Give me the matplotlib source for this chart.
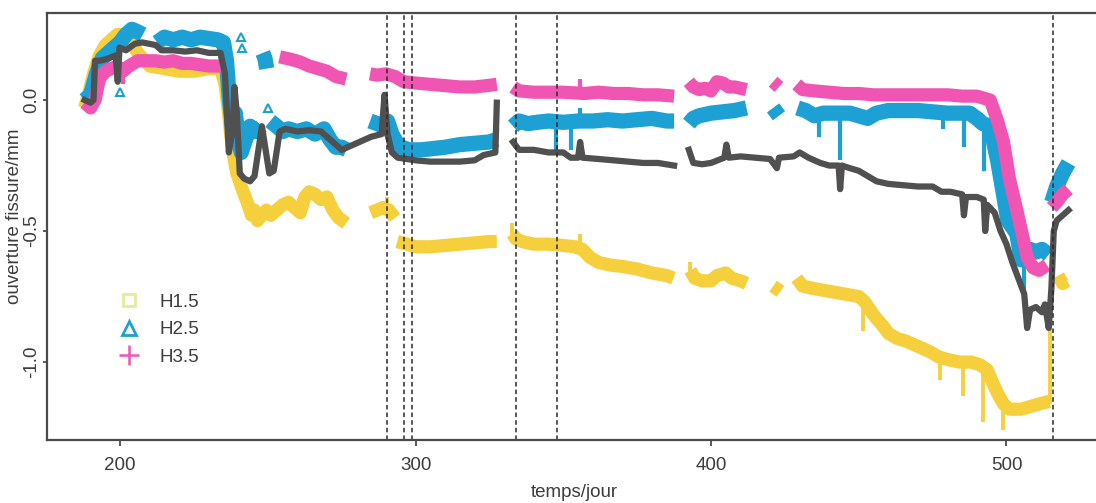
import numpy as np
import matplotlib.pyplot as plt
from matplotlib.lines import Line2D

nan = np.nan

# ---- H1.5 (yellow) ----
h15_day = [188, 189.5, 191, 193, 195, 197, 199, 201, 203, 206, 210, 215, 220, 225, 230, 234,
           235.5, 236.5, 237.5, 238.5, 239.5, 241, 243, 244.5, 245.5, 246.5, 248, 249.5, 251,
           253, 255, 257, 259, 261, 262.5, 264, 266, 268, 270, 272, 274, 276.5, nan,
           284.8, 287, 289, 291, 293, nan,
           293.8, 297, 300, 305, 310, 315, 320, 325, 327.5, nan,
           332.8, 334, 336, 340, 345, 350, 354, 356.5, 359, 362, 366, 370, 375, 380, 385, 387.3, nan,
           393, 394.5, 397, 400, 402, 405, 407, 410, 412, nan,
           421, 423.5, nan,
           429, 431, 435, 440, 445, 450, 452, 455, 458, 460, 463, 466, 470, 474, 477, 480, 484,
           488, 491, 493.5, 495, 497, 499, 501, 505, 508, 511, 514.5, nan,
           517.5, 519, 520.5]
h15_val = [-0.03, 0.03, 0.1, 0.17, 0.21, 0.23, 0.25, 0.25, 0.23, 0.18, 0.13, 0.12, 0.11, 0.11, 0.12, 0.12,
           0.06, -0.03, -0.14, -0.22, -0.28, -0.33, -0.39, -0.44, -0.42, -0.46, -0.44, -0.42, -0.44,
           -0.42, -0.40, -0.39, -0.41, -0.43, -0.37, -0.35, -0.36, -0.38, -0.37, -0.42, -0.45, -0.47, nan,
           -0.43, -0.42, -0.41, -0.42, -0.45, nan,
           -0.54, -0.55, -0.56, -0.56, -0.555, -0.55, -0.545, -0.54, -0.54, nan,
           -0.51, -0.53, -0.54, -0.55, -0.55, -0.555, -0.56, -0.57, -0.6, -0.62, -0.63, -0.635, -0.645,
           -0.66, -0.67, -0.68, nan,
           -0.65, -0.68, -0.69, -0.69, -0.67, -0.66, -0.68, -0.69, -0.70, nan,
           -0.71, -0.73, nan,
           -0.68, -0.71, -0.72, -0.73, -0.74, -0.75, -0.77, -0.82, -0.86, -0.89, -0.91, -0.92, -0.94,
           -0.96, -0.98, -0.99, -1.0, -1.0, -1.01, -1.03, -1.07, -1.12, -1.16, -1.18, -1.18, -1.17,
           -1.16, -1.15, nan,
           -0.67, -0.70, -0.69]
h15_spk_day = [290.4, 332.5, 355.5, 393, 451.5, 477.6, 485.2, 492.2, 498.8, 514.8]
h15_spk_from = [-0.42, -0.53, -0.56, -0.67, -0.76, -0.98, -1.0, -1.02, -1.15, -1.16]
h15_spk_to = [-0.37, -0.47, -0.51, -0.62, -0.88, -1.07, -1.13, -1.23, -1.26, -0.87]

# ---- H2.5 (blue) ----
h25_day = [188, 190, 192, 194, 196, 198, 200, 202, 204, 206, 207.7, nan,
           212.5, 215, 218, 221, 224, 227, 230, 233, 235, 236, 237, 238, 239, 240, 241, 242.5,
           244, 246, 247.8, nan,
           248.3, 249, 249.6, nan,
           250.8, 253, 255, 257, 260, 263, 266, 269, 271, 273, 275, 276.7, nan,
           284.6, 287, 289, 290.5, 292, 293.5, 295, 298, 302, 306, 310, 315, 320, 325, 327.5, nan,
           333, 335, 338, 341, 345, 350, 355, 360, 365, 370, 375, 380, 385, 387.5, nan,
           392.5, 394, 396, 400, 404, 408, 412, nan,
           421, 423, nan,
           429.3, 432, 435, 438, 441, 444, 447, 450, 453, 456, 460, 465, 470, 475, 480, 484,
           487.5, 490, 492, 494.5, 497, 499, 500.5, 503.5, 505, 506.5, 508, 510, 512, 514.3, nan,
           515.3, 517, 519, 521]
h25_val = [0.0, 0.02, 0.1, 0.16, 0.18, 0.2, 0.22, 0.25, 0.27, 0.26, 0.25, nan,
           0.22, 0.24, 0.23, 0.24, 0.23, 0.24, 0.235, 0.23, 0.22, 0.15, 0.0, -0.1, -0.05, -0.15, -0.2,
           -0.15, -0.1, -0.12, -0.1, nan,
           0.18, 0.16, 0.12, nan,
           -0.08, -0.1, -0.12, -0.11, -0.12, -0.11, -0.13, -0.11, -0.15, -0.18, -0.18, -0.19, nan,
           -0.08, -0.09, -0.1, -0.08, -0.13, -0.16, -0.18, -0.19, -0.19, -0.185, -0.18, -0.17,
           -0.165, -0.16, -0.15, nan,
           -0.1, -0.08, -0.09, -0.085, -0.08, -0.085, -0.08, -0.08, -0.075, -0.08, -0.075, -0.07,
           -0.08, -0.08, nan,
           -0.09, -0.07, -0.06, -0.05, -0.045, -0.04, -0.03, nan,
           -0.03, -0.06, nan,
           -0.03, -0.04, -0.06, -0.05, -0.05, -0.05, -0.05, -0.06, -0.07, -0.05, -0.04, -0.04,
           -0.04, -0.045, -0.05, -0.05, -0.05, -0.07, -0.09, -0.1, -0.23, -0.36, -0.46, -0.51,
           -0.61, -0.6, -0.57, -0.58, -0.57, -0.59, nan,
           -0.39, -0.33, -0.28, -0.24]
h25_spk_day = [347.6, 352.6, 355.7, 436.5, 443.5, 478.5, 485.6, 492.4, 505.8]
h25_spk_from = [-0.09, -0.08, -0.08, -0.05, -0.05, -0.045, -0.05, -0.08, -0.62]
h25_spk_to = [-0.19, -0.19, -0.03, -0.14, -0.23, -0.11, -0.18, -0.27, -0.73]
h25_out_day = [200.0, 241.0, 241.3, 250.0]
h25_out_val = [0.03, 0.24, 0.2, -0.03]

# ---- H3.5 (pink) ----
h35_day = [188, 190, 191.5, 193, 195, 197, 199, 201, 203, 206, 209, 212, 215, 218, 221, 224,
           227, 230, 233, 235, nan,
           254, 256, 258, 261, 264, 267, 270, 273, 276.5, nan,
           284.6, 287, 290, 293, 296, 300, 305, 310, 315, 320, 324, 327.5, nan,
           333, 335, 340, 345, 350, 357, 362, 367, 372, 377, 382, 387.5, nan,
           392.5, 394, 396, 398, 400, 402, 404, 406, 408, 410, 412, nan,
           421, 423, nan,
           429, 431, 435, 440, 445, 450, 455, 460, 465, 470, 475, 480, 485, 490, 494.5, 497,
           499, 501, 503.5, 505.5, 507, 509, 511, 513.7, nan,
           515.3, 517, 519, 521]
h35_val = [-0.01, -0.03, 0.0, 0.08, 0.11, 0.12, 0.13, 0.11, 0.13, 0.15, 0.15, 0.15, 0.145, 0.15,
           0.14, 0.14, 0.135, 0.13, 0.13, 0.13, nan,
           0.165, 0.16, 0.155, 0.145, 0.13, 0.12, 0.11, 0.09, 0.08, nan,
           0.1, 0.095, 0.1, 0.09, 0.07, 0.065, 0.06, 0.055, 0.05, 0.05, 0.055, 0.06, nan,
           0.05, 0.035, 0.03, 0.03, 0.03, 0.025, 0.03, 0.025, 0.025, 0.02, 0.02, 0.015, nan,
           0.07, 0.05, 0.04, 0.045, 0.035, 0.07, 0.065, 0.05, 0.05, 0.045, 0.04, nan,
           0.07, 0.05, nan,
           0.06, 0.04, 0.035, 0.03, 0.025, 0.025, 0.02, 0.02, 0.02, 0.02, 0.02, 0.02, 0.015,
           0.015, 0.0, -0.08, -0.16, -0.3, -0.42, -0.52, -0.6, -0.64, -0.65, -0.63, nan,
           -0.41, -0.39, -0.36, -0.34]
h35_spk_day = [201, 355.5]
h35_spk_from = [0.12, 0.03]
h35_spk_to = [0.06, 0.08]

# ---- moyenne (dark grey line) ----
moy_day = [188, 190, 191, 191.5, 193, 195, 198.5, 199.2, 199.8, 202, 205, 207.5, 212, 214, 218,
           222, 226, 230, 234, 235.5, 236.8, 238, 238.7, 239.5, 240.5, 242, 244, 245.5, 248, 250.5,
           252, 254, 256, 260, 264, 268, 270, 273, 275, 280, 285, 288.5, 289.5, 290.5, 292, 294,
           300, 305, 310, 315, 320, 323, 327, 327.5, nan,
           333, 335, 340, 345, 350, 352.5, 355, 355.7, 356.5, 362, 367, 372, 377, 382, 387.5, nan,
           392.5, 394, 397, 400, 404.5, 405.2, 406, 410, 415, 420, 422.3, 423, 428, 430, 433, 437,
           440, 443.2, 443.7, 444.3, 447, 450, 453, 456, 460, 465, 470, 475, 478, 481, 485, 485.6,
           486.3, 490, 492.3, 492.8, 493.5, 496, 498, 500, 502, 504, 506, 507, 508, 510, 512, 513,
           514.3, 515.2, 516, 517, 519, 521]
moy_val = [0.0, -0.01, 0.0, 0.15, 0.15, 0.155, 0.17, 0.07, 0.2, 0.19, 0.215, 0.22, 0.21, 0.19, 0.19,
           0.185, 0.19, 0.18, 0.18, 0.1, -0.2, -0.12, 0.05, -0.05, -0.28, -0.3, -0.31, -0.29, -0.1,
           -0.28, -0.27, -0.12, -0.11, -0.12, -0.115, -0.12, -0.14, -0.17, -0.19, -0.165, -0.14,
           -0.13, 0.02, -0.13, -0.2, -0.22, -0.23, -0.235, -0.235, -0.235, -0.23, -0.21, -0.2,
           -0.01, nan,
           -0.16, -0.19, -0.19, -0.2, -0.2, -0.22, -0.22, -0.16, -0.22, -0.225, -0.23, -0.235,
           -0.24, -0.24, -0.25, nan,
           -0.19, -0.24, -0.245, -0.24, -0.22, -0.17, -0.22, -0.215, -0.22, -0.225, -0.26, -0.22,
           -0.215, -0.2, -0.22, -0.24, -0.25, -0.25, -0.34, -0.25, -0.26, -0.27, -0.29, -0.31,
           -0.32, -0.325, -0.33, -0.33, -0.35, -0.35, -0.36, -0.44, -0.37, -0.37, -0.38, -0.5,
           -0.4, -0.43, -0.5, -0.55, -0.62, -0.68, -0.74, -0.87, -0.8, -0.79, -0.81, -0.78, -0.87,
           -0.72, -0.5, -0.46, -0.44, -0.42]

# dates des événements (lignes pointillées)
event_days = [290.4, 296.1, 298.8, 334.0, 347.9, 515.7]

c_h15 = '#F6D03C'
c_h25 = '#1DA0D3'
c_h35 = '#F055B4'
c_moy = '#505050'
c_txt = '#3C3C3C'

plt.rcParams['font.family'] = ['Liberation Sans', 'DejaVu Sans']

fig = plt.figure(figsize=(10.96, 5.03), dpi=100)
ax = fig.add_axes([0.043, 0.125, 0.957, 0.849])

band = dict(solid_capstyle='butt', solid_joinstyle='round')
ax.plot(h15_day, h15_val, color=c_h15, lw=9.5, **band)
ax.vlines(h15_spk_day, h15_spk_from, h15_spk_to, color=c_h15, lw=2.8)
ax.plot(h25_day, h25_val, color=c_h25, lw=11, **band)
ax.vlines(h25_spk_day, h25_spk_from, h25_spk_to, color=c_h25, lw=3)
ax.plot(h25_out_day, h25_out_val, ls='none', marker='^', ms=6, mfc='none', mec=c_h25, mew=1.5)
ax.plot(h35_day, h35_val, color=c_h35, lw=9.5, **band)
ax.vlines(h35_spk_day, h35_spk_from, h35_spk_to, color=c_h35, lw=3)
ax.plot(moy_day, moy_val, color=c_moy, lw=4.5, solid_joinstyle='round')

for d in event_days:
    ax.axvline(d, color='#2A2A2A', lw=1.1, ls=(0, (3, 2)))

ax.set_xlim(175.3, 530.3)
ax.set_ylim(-1.298, 0.332)
ax.set_xticks([200, 300, 400, 500])
ax.set_yticks([0.0, -0.5, -1.0])
ax.set_yticklabels(['0.0', '-0.5', '-1.0'], rotation=90, va='center')
ax.tick_params(axis='x', length=4, width=1.2, pad=8, labelsize=13.5, colors=c_txt)
ax.tick_params(axis='y', length=3, width=1.2, pad=2, labelsize=13.5, colors=c_txt)
for s in ['left', 'bottom', 'top']:
    ax.spines[s].set_color('#4A4A4A')
    ax.spines[s].set_linewidth(1.6)
ax.spines['right'].set_visible(False)

ax.set_xlabel('temps/jour', fontsize=13.5, color=c_txt)
ax.set_ylabel('ouverture fissure/mm', fontsize=13.5, color=c_txt)
ax.xaxis.set_label_coords(0.503, -0.103)
ax.yaxis.set_label_coords(-0.023, 0.525)

handles = [
    Line2D([], [], ls='none', marker='s', ms=9, mfc='none', mec='#E6EC96', mew=2),
    Line2D([], [], ls='none', marker='^', ms=10, mfc='none', mec=c_h25, mew=2),
    Line2D([], [], ls='none', marker='+', ms=14, mec=c_h35, mew=1.8),
]
leg = ax.legend(handles, ['H1.5', 'H2.5', 'H3.5'], loc='upper left',
                bbox_to_anchor=(0.048, 0.374), frameon=False, fontsize=13.5,
                handletextpad=0.6, labelspacing=0.55, borderpad=0.2)
for t in leg.get_texts():
    t.set_color(c_txt)

fig.savefig('out.png', dpi=100)
